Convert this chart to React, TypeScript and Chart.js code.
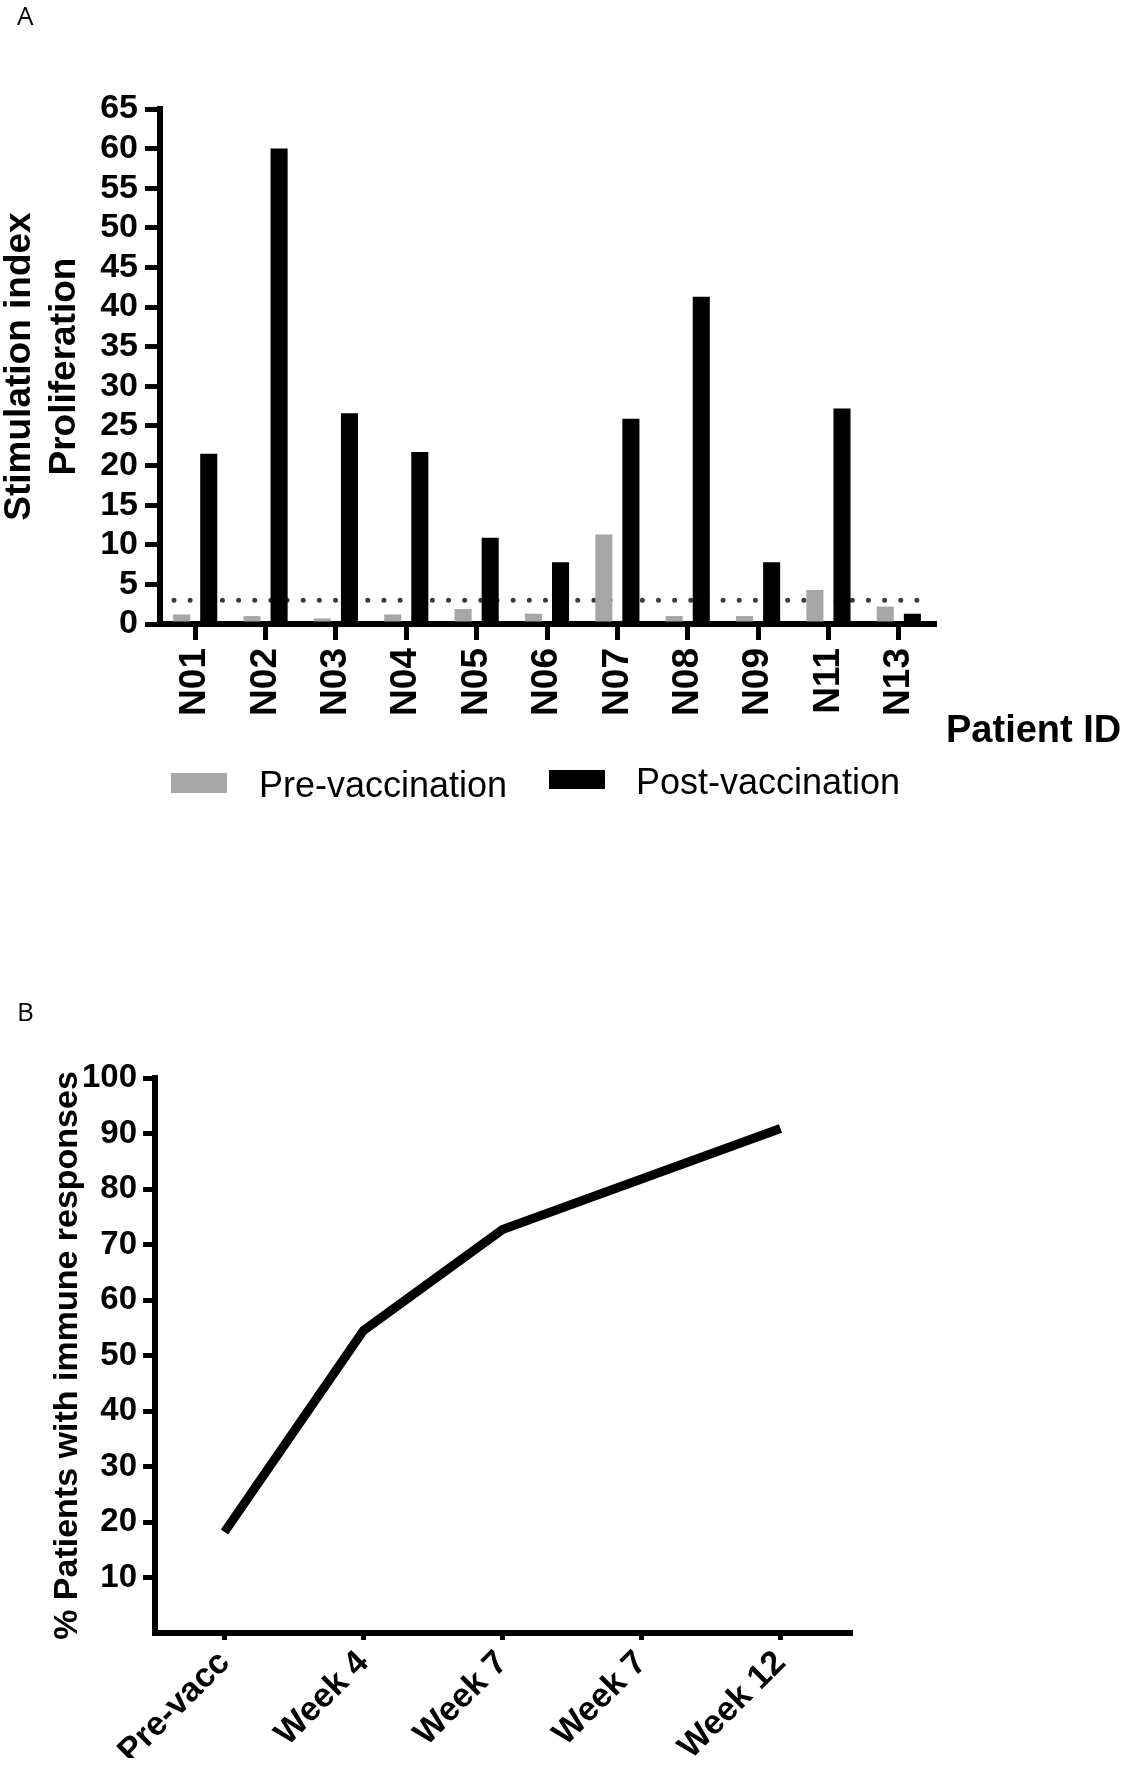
import React, { useEffect, useRef } from 'react';
import { Chart, registerables } from 'chart.js';

Chart.register(...registerables);

// ---------- Panel A data ----------
const patientIds = ['N01', 'N02', 'N03', 'N04', 'N05', 'N06', 'N07', 'N08', 'N09', 'N11', 'N13'];
const preVaccination = [1.2, 1.0, 0.7, 1.2, 1.9, 1.3, 11.3, 1.0, 1.0, 4.3, 2.2];
const postVaccination = [21.5, 60.0, 26.6, 21.7, 10.9, 7.8, 25.9, 41.3, 7.8, 27.2, 1.3];
const seriesLabels = ['Pre-vaccination', 'Post-vaccination'];
const responseThreshold = 3;
const yTitleA = ['Stimulation index', 'Proliferation'];
const xTitleA = 'Patient ID';

// ---------- Panel B data ----------
const timepoints = ['Pre-vacc', 'Week 4', 'Week 7', 'Week 7', 'Week 12'];
const pctResponders = [18.2, 54.5, 72.7, 81.8, 90.9];
const yTitleB = '% Patients with immune responses';

const SANS = "'Liberation Sans', Arial, Helvetica, sans-serif";

const thresholdLine = {
  id: 'thresholdLine',
  beforeDatasetsDraw(chart: any, _args: any, opts: any) {
    if (opts.value === undefined) return;
    const { ctx, chartArea } = chart;
    const y = chart.scales.y.getPixelForValue(opts.value);
    ctx.save();
    ctx.strokeStyle = opts.color;
    ctx.lineWidth = opts.dotSize;
    ctx.lineCap = 'round';
    ctx.setLineDash([0, opts.gap]);
    ctx.beginPath();
    ctx.moveTo(chartArea.left + opts.startInset, y);
    ctx.lineTo(chartArea.right - opts.endInset, y);
    ctx.stroke();
    ctx.restore();
  },
};

const boxLegend = {
  id: 'boxLegend',
  afterDraw(chart: any, _args: any, opts: any) {
    if (!opts.items) return;
    const { ctx } = chart;
    ctx.save();
    chart.data.datasets.forEach((ds: any, i: number) => {
      const it = opts.items[i];
      if (!it) return;
      ctx.fillStyle = ds.backgroundColor;
      ctx.fillRect(it.x, it.y, it.w, it.h);
      ctx.fillStyle = '#000';
      ctx.font = opts.font;
      ctx.textAlign = 'left';
      ctx.textBaseline = 'alphabetic';
      ctx.fillText(ds.label, it.textX, it.textY);
    });
    ctx.restore();
  },
};

const freeText = {
  id: 'freeText',
  afterDraw(chart: any, _args: any, opts: any) {
    if (!opts.texts) return;
    const { ctx } = chart;
    ctx.save();
    opts.texts.forEach((t: any) => {
      ctx.font = t.font;
      ctx.fillStyle = '#000';
      ctx.textAlign = 'left';
      ctx.textBaseline = 'alphabetic';
      ctx.fillText(t.text, t.x, t.y);
    });
    ctx.restore();
  },
};

export default function App() {
  const refA = useRef<HTMLCanvasElement>(null);
  const refB = useRef<HTMLCanvasElement>(null);

  useEffect(() => {
    const chartA = new Chart(refA.current as HTMLCanvasElement, {
      type: 'bar',
      data: {
        labels: patientIds,
        datasets: [
          {
            label: seriesLabels[0],
            data: preVaccination,
            backgroundColor: '#a6a6a6',
            borderWidth: 0,
            categoryPercentage: 0.77,
            barPercentage: 0.63,
          },
          {
            label: seriesLabels[1],
            data: postVaccination,
            backgroundColor: '#000000',
            borderWidth: 0,
            categoryPercentage: 0.77,
            barPercentage: 0.63,
          },
        ],
      },
      options: {
        responsive: false,
        animation: false,
        devicePixelRatio: 1,
        layout: { padding: { left: 0, top: 109, right: 190, bottom: 156 } },
        plugins: {
          legend: { display: false },
          tooltip: { enabled: false },
          thresholdLine: { value: responseThreshold, color: '#3a3a3a', dotSize: 5, gap: 16.15, startInset: 14, endInset: 17 },
          boxLegend: {
            font: `36px ${SANS}`,
            items: [
              { x: 171, y: 773, w: 56, h: 20, textX: 259, textY: 797 },
              { x: 549, y: 770, w: 56, h: 19, textX: 636, textY: 794 },
            ],
          },
          freeText: {
            texts: [
              { text: 'A', x: 17, y: 25, font: `26px 'Open Sans', ${SANS}` },
              { text: xTitleA, x: 946, y: 742, font: `bold 38px ${SANS}` },
            ],
          },
        } as any,
        scales: {
          x: {
            offset: true,
            z: 1,
            grid: { offset: false, drawOnChartArea: false, drawTicks: true, tickLength: 16, tickWidth: 5, lineWidth: 5, tickColor: '#000' },
            border: { display: true, width: 6, color: '#000' },
            ticks: {
              color: '#000',
              font: { family: SANS, size: 37, weight: 'bold' },
              minRotation: 90,
              maxRotation: 90,
              autoSkip: false,
              padding: 8,
            },
            afterFit: (s: any) => { s.height = 100; },
          },
          y: {
            min: 0,
            max: 65,
            z: 1,
            grid: { drawOnChartArea: false, drawTicks: true, tickLength: 15, tickWidth: 5, lineWidth: 5, tickColor: '#000' },
            border: { display: true, width: 6, color: '#000' },
            ticks: {
              stepSize: 5,
              color: '#000',
              font: { family: SANS, size: 34, weight: 'bold' },
              padding: 7,
              autoSkip: false,
            },
            title: {
              display: true,
              text: yTitleA,
              color: '#000',
              font: { family: SANS, size: 37, weight: 'bold', lineHeight: 1.22 },
              padding: { top: -2.5, bottom: 0 },
            },
            afterFit: (s: any) => { s.width = 160; },
          },
        } as any,
      },
      plugins: [thresholdLine, boxLegend, freeText],
    });

    const chartB = new Chart(refB.current as HTMLCanvasElement, {
      type: 'line',
      data: {
        labels: timepoints,
        datasets: [
          {
            label: yTitleB,
            data: pctResponders,
            borderColor: '#000',
            backgroundColor: '#000',
            borderWidth: 9,
            pointRadius: 0,
            tension: 0,
            fill: false,
            borderCapStyle: 'butt',
            borderJoinStyle: 'miter',
          },
        ],
      },
      options: {
        responsive: false,
        animation: false,
        devicePixelRatio: 1,
        layout: { padding: { left: 0, top: 178, right: 274, bottom: 7 } },
        plugins: {
          legend: { display: false },
          tooltip: { enabled: false },
          freeText: {
            texts: [{ text: 'B', x: 17, y: 121, font: `26px 'Open Sans', ${SANS}` }],
          },
        } as any,
        scales: {
          x: {
            offset: true,
            z: 1,
            grid: { offset: false, drawOnChartArea: false, drawTicks: true, tickLength: 7, tickWidth: 5, lineWidth: 5, tickColor: '#000' },
            border: { display: true, width: 6, color: '#000' },
            ticks: {
              color: '#000',
              font: { family: SANS, size: 34, weight: 'bold' },
              minRotation: 45,
              maxRotation: 45,
              autoSkip: false,
              padding: 3,
            },
            afterFit: (s: any) => { s.height = 125; },
          },
          y: {
            min: 0,
            max: 100,
            z: 1,
            grid: { drawOnChartArea: false, drawTicks: true, tickLength: 12, tickWidth: 5, lineWidth: 5, tickColor: '#000' },
            border: { display: true, width: 6, color: '#000' },
            ticks: {
              stepSize: 10,
              color: '#000',
              font: { family: SANS, size: 33, weight: 'bold' },
              padding: 6,
              autoSkip: false,
            },
            afterBuildTicks: (s: any) => { s.ticks = s.ticks.filter((t: any) => t.value !== 0); },
            title: {
              display: true,
              text: yTitleB,
              color: '#000',
              font: { family: SANS, size: 34, weight: 'bold', lineHeight: 1.2 },
              padding: { top: 47, bottom: 0 },
            },
            afterFit: (s: any) => { s.width = 155; },
          },
        } as any,
      },
      plugins: [freeText],
    });

    return () => {
      chartA.destroy();
      chartB.destroy();
    };
  }, []);

  return (
    <div style={{ position: 'absolute', left: 0, top: 0, width: 1124, height: 1765, background: '#fff', overflow: 'hidden' }}>
      <canvas ref={refA} width={1124} height={880} style={{ position: 'absolute', left: 0, top: 0 }} />
      <canvas ref={refB} width={1124} height={865} style={{ position: 'absolute', left: 0, top: 900 }} />
    </div>
  );
}
